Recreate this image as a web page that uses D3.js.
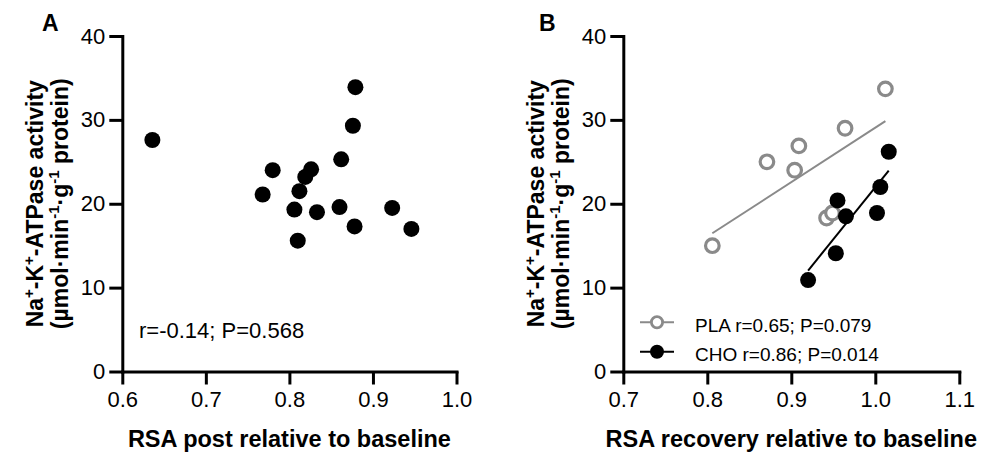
<!DOCTYPE html>
<html>
<head>
<meta charset="utf-8">
<script src="https://cdn.jsdelivr.net/npm/d3@7"></script>
<style>
  html, body { margin: 0; padding: 0; background: #fff; }
  svg { display: block; }
  text { font-family: "Liberation Sans", Arial, Helvetica, sans-serif; fill: #000; }
</style>
</head>
<body>
<svg id="chart" width="986" height="452"></svg>
<script>
// ---------- data ----------
const yTickValues = [0, 10, 20, 30, 40];
const xTicksA = [0.6, 0.7, 0.8, 0.9, 1.0];
const xTicksB = [0.7, 0.8, 0.9, 1.0, 1.1];

// Panel A: RSA post relative to baseline vs Na+-K+-ATPase activity
const rsaPostA = [0.636, 0.780, 0.768, 0.826, 0.819, 0.812, 0.806, 0.833, 0.810, 0.862, 0.860, 0.879, 0.876, 0.878, 0.923, 0.946];
const atpaseA  = [27.6, 24.0, 21.1, 24.1, 23.2, 21.5, 19.3, 19.0, 15.6, 25.3, 19.6, 33.9, 29.3, 17.3, 19.5, 17.0];

// Panel B: RSA recovery relative to baseline
const rsaPLA    = [0.806, 0.871, 0.904, 0.909, 0.942, 0.949, 0.964, 1.012];
const atpasePLA = [15.0, 25.0, 24.0, 26.9, 18.3, 18.9, 29.0, 33.7];
const rsaCHO    = [0.920, 0.953, 0.955, 0.965, 1.002, 1.006, 1.016];
const atpaseCHO = [10.9, 14.1, 20.4, 18.5, 18.9, 22.0, 26.2];

const annotationA = "r=-0.14; P=0.568";
const legendLabels = ["PLA r=0.65; P=0.079", "CHO r=0.86; P=0.014"];
const xTitleA = "RSA post relative to baseline";
const xTitleB = "RSA recovery relative to baseline";

// ---------- helpers ----------
const svg = d3.select("#chart");
const GRAY = "#8a8a8a";
const plotTop = 36, plotBottom = 371.5;

function linFit(xs, ys) {
  const n = xs.length;
  const mx = d3.mean(xs), my = d3.mean(ys);
  let sxy = 0, sxx = 0;
  for (let i = 0; i < n; i++) { sxy += (xs[i]-mx)*(ys[i]-my); sxx += (xs[i]-mx)**2; }
  const b = sxy / sxx, a = my - b*mx;
  const x0 = d3.min(xs), x1 = d3.max(xs);
  return [[x0, a + b*x0], [x1, a + b*x1]];
}

function yTitle(g, xAxis, cy) {
  const t1 = g.append("text")
    .attr("transform", `translate(${xAxis - 79},${cy}) rotate(-90)`)
    .attr("text-anchor", "middle")
    .style("font-size", "23px").style("font-weight", "bold");
  t1.append("tspan").text("Na");
  t1.append("tspan").attr("dy", -9).style("font-size", "15px").text("+");
  t1.append("tspan").attr("dy", 9).text("-K");
  t1.append("tspan").attr("dy", -9).style("font-size", "15px").text("+");
  t1.append("tspan").attr("dy", 9).text("-ATPase activity");

  const t2 = g.append("text")
    .attr("transform", `translate(${xAxis - 54},${cy}) rotate(-90)`)
    .attr("text-anchor", "middle")
    .style("font-size", "23px").style("font-weight", "bold");
  t2.append("tspan").text("(µmol·min");
  t2.append("tspan").attr("dy", -9).style("font-size", "15px").text("-1");
  t2.append("tspan").attr("dy", 9).text("·g");
  t2.append("tspan").attr("dy", -9).style("font-size", "15px").text("-1");
  t2.append("tspan").attr("dy", 9).text(" protein)");
}

function panel(opts) {
  const g = svg.append("g");
  const x = d3.scaleLinear().domain(opts.xDomain).range([opts.left, opts.right]);
  const y = d3.scaleLinear().domain([0, 40]).range([plotBottom, plotTop]);

  const xAxis = g.append("g").attr("transform", `translate(0,${plotBottom})`)
    .call(d3.axisBottom(x).tickValues(opts.xTicks).tickFormat(d3.format(".1f"))
      .tickSize(13).tickSizeOuter(0).tickPadding(7));
  const yAxis = g.append("g").attr("transform", `translate(${opts.left},0)`)
    .call(d3.axisLeft(y).tickValues(yTickValues).tickFormat(d3.format("d"))
      .tickSize(13).tickSizeOuter(0).tickPadding(4));
  [xAxis, yAxis].forEach(a => {
    a.selectAll("path, line").attr("stroke", "#000").attr("stroke-width", 3);
    a.selectAll("path").attr("stroke-linecap", "square");
    a.selectAll("text").style("font-size", "22px").attr("fill", "#000");
  });

  // panel letter
  g.append("text").attr("x", opts.letterX).attr("y", 31)
    .style("font-size", "23px").style("font-weight", "bold").text(opts.letter);

  yTitle(g, opts.left, (plotTop + plotBottom) / 2);

  g.append("text").attr("x", (opts.left + opts.right) / 2).attr("y", 447)
    .attr("text-anchor", "middle")
    .style("font-size", "23.5px").style("font-weight", "bold").text(opts.xTitle);

  return { g, x, y };
}

// ---------- Panel A ----------
const A = panel({ xDomain: [0.6, 1.0], left: 122.3, right: 456.5, xTicks: xTicksA,
  letter: "A", letterX: 42, xTitle: xTitleA });

A.g.selectAll("circle.pt").data(rsaPostA.map((v, i) => [v, atpaseA[i]])).join("circle")
  .attr("class", "pt")
  .attr("cx", d => A.x(d[0])).attr("cy", d => A.y(d[1])).attr("r", 8).attr("fill", "#000");

A.g.append("text").attr("x", 139).attr("y", 338)
  .style("font-size", "22px").text(annotationA);

// ---------- Panel B ----------
const B = panel({ xDomain: [0.7, 1.1], left: 623.3, right: 959.3, xTicks: xTicksB,
  letter: "B", letterX: 539, xTitle: xTitleB });

const line = d3.line().x(d => B.x(d[0])).y(d => B.y(d[1]));
B.g.append("path").datum(linFit(rsaPLA, atpasePLA)).attr("d", line)
  .attr("stroke", GRAY).attr("stroke-width", 2).attr("fill", "none");
B.g.append("path").datum(linFit(rsaCHO, atpaseCHO)).attr("d", line)
  .attr("stroke", "#000").attr("stroke-width", 2).attr("fill", "none");

B.g.selectAll("circle.pla").data(rsaPLA.map((v, i) => [v, atpasePLA[i]])).join("circle")
  .attr("class", "pla")
  .attr("cx", d => B.x(d[0])).attr("cy", d => B.y(d[1])).attr("r", 6.8)
  .attr("fill", "#fff").attr("stroke", GRAY).attr("stroke-width", 3.2);
B.g.selectAll("circle.cho").data(rsaCHO.map((v, i) => [v, atpaseCHO[i]])).join("circle")
  .attr("class", "cho")
  .attr("cx", d => B.x(d[0])).attr("cy", d => B.y(d[1])).attr("r", 8).attr("fill", "#000");

// legend
const legend = B.g.append("g");
const legItems = [
  { label: legendLabels[0], color: GRAY, open: true, y: 322.3 },
  { label: legendLabels[1], color: "#000", open: false, y: 351.7 }
];
legItems.forEach(it => {
  legend.append("line").attr("x1", 640).attr("x2", 674).attr("y1", it.y).attr("y2", it.y)
    .attr("stroke", it.color).attr("stroke-width", 2);
  legend.append("circle").attr("cx", 657).attr("cy", it.y)
    .attr("r", it.open ? 5.6 : 7)
    .attr("fill", it.open ? "#fff" : "#000")
    .attr("stroke", it.open ? GRAY : "none").attr("stroke-width", it.open ? 2.8 : 0);
  legend.append("text").attr("x", 695).attr("y", it.y + 9.5)
    .style("font-size", "19px").text(it.label);
});
</script>
</body>
</html>
